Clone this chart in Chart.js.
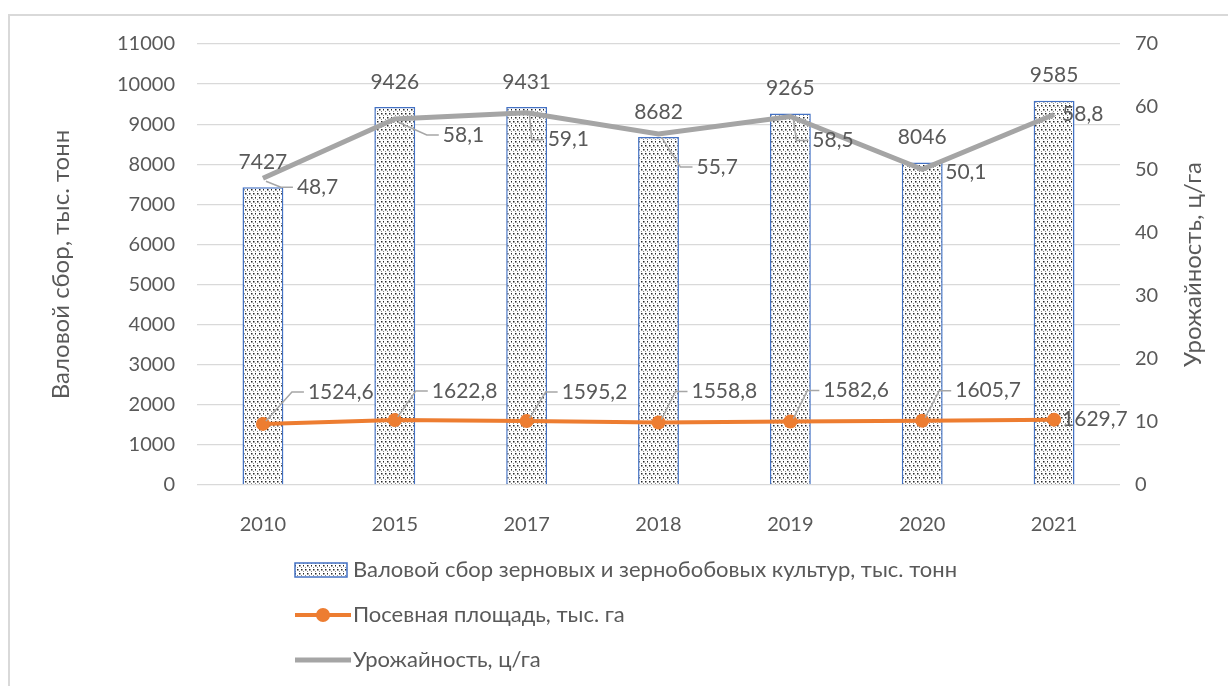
<!DOCTYPE html>
<html>
<head>
<meta charset="utf-8">
<script src="https://cdn.jsdelivr.net/npm/chart.js@4.4.0/dist/chart.umd.min.js"></script>
<style>
  html, body { margin: 0; padding: 0; background: #fff; }
  #frame { position: absolute; left: 8px; top: 14px; width: 1240px; height: 690px;
           border-left: 2px solid #d9d9d9; border-top: 2px solid #d9d9d9; }
  #wrap { position: absolute; left: 0; top: 0; width: 1228px; height: 686px; }
</style>
</head>
<body>
<div id="frame"></div>
<div id="wrap"><canvas id="grainChart" width="1228" height="686"></canvas></div>
<script>
const years = ['2010', '2015', '2017', '2018', '2019', '2020', '2021'];
const harvest = [7427, 9426, 9431, 8682, 9265, 8046, 9585];
const sownArea = [1524.6, 1622.8, 1595.2, 1558.8, 1582.6, 1605.7, 1629.7];
const yieldPerHa = [48.7, 58.1, 59.1, 55.7, 58.5, 50.1, 58.8];

const seriesNames = [
    'Валовой сбор зерновых и зернобобовых культур, тыс. тонн',
    'Посевная площадь, тыс. га',
    'Урожайность, ц/га'
];
const leftTitle = 'Валовой сбор, тыс. тонн';
const rightTitle = 'Урожайность, ц/га';

const FONT = 'Lato, "Open Sans", sans-serif';
const TEXT = '#595959';

// label placement (label left edge / centre relative to the point)
const yieldLblDx = [34, 48, 21, 38, 22, 23, 8];
const yieldLblDy = [9, 16, 27, 33, 24, 3, 0];
const areaLblDx = [45, 37, 35, 33, 33, 33, 8];
const areaLblDy = [-32, -29, -29, -31, -31, -30, 0];

function dotPattern() {
    const c = document.createElement('canvas');
    c.width = 8; c.height = 8;
    const g = c.getContext('2d');
    g.fillStyle = '#fff';
    g.fillRect(0, 0, 8, 8);
    g.fillStyle = '#262626';
    [[1, 1], [5, 1], [3, 5], [7, 5]].forEach(p => g.fillRect(p[0], p[1], 1.5, 1.5));
    g.fillStyle = '#8c8c8c';
    [[3, 3], [7, 3], [1, 7], [5, 7]].forEach(p => g.fillRect(p[0], p[1], 1, 1));
    return g.createPattern(c, 'repeat');
}

const fmt = v => String(v).replace('.', ',');

const labelPlugin = {
    id: 'valueLabels',
    afterDatasetsDraw(chart) {
        const ctx = chart.ctx;
        ctx.save();
        ctx.font = '21px ' + FONT;
        ctx.fillStyle = TEXT;
        ctx.textBaseline = 'middle';

        // bar values
        ctx.textAlign = 'center';
        chart.getDatasetMeta(0).data.forEach((el, i) => {
            ctx.fillText(fmt(harvest[i]), el.x, el.y - 25);
        });

        ctx.textAlign = 'left';
        ctx.strokeStyle = '#a6a6a6';
        ctx.lineWidth = 1.5;
        const drawLbl = (el, txt, dx, dy) => {
            const lx = el.x + dx, ly = el.y + dy;
            if (Math.abs(dy) > 6) {
                const sgn = dy > 0 ? 1 : -1;
                ctx.beginPath();
                ctx.moveTo(el.x + 3, el.y + sgn * 3);
                ctx.lineTo(lx - 16, ly);
                ctx.lineTo(lx - 4, ly);
                ctx.stroke();
            }
            ctx.fillText(txt, lx, ly);
        };
        chart.getDatasetMeta(1).data.forEach((el, i) => drawLbl(el, fmt(sownArea[i]), areaLblDx[i], areaLblDy[i]));
        chart.getDatasetMeta(2).data.forEach((el, i) => drawLbl(el, fmt(yieldPerHa[i]), yieldLblDx[i], yieldLblDy[i]));
        ctx.restore();
    },
    afterDraw(chart) {
        const ctx = chart.ctx;
        const area = chart.chartArea;
        ctx.save();
        // right axis title, reading bottom-up like the left one
        ctx.font = '24px ' + FONT;
        ctx.fillStyle = TEXT;
        ctx.textAlign = 'center';
        ctx.textBaseline = 'middle';
        ctx.translate(1193, (area.top + area.bottom) / 2);
        ctx.rotate(-Math.PI / 2);
        ctx.fillText(rightTitle, 0, 0);
        ctx.restore();

        // legend, stacked vertically as in the original
        const x0 = 295, x1 = 351, tx = 353;
        const rows = [570, 615, 660];
        ctx.save();
        ctx.textBaseline = 'middle';
        ctx.textAlign = 'left';

        ctx.fillStyle = chart.data.datasets[0].backgroundColor;
        ctx.fillRect(x0, rows[0] - 7, x1 - x0 - 4, 14);
        ctx.strokeStyle = '#4472c4';
        ctx.lineWidth = 1.5;
        ctx.strokeRect(x0, rows[0] - 7, x1 - x0 - 4, 14);

        ctx.strokeStyle = '#ed7d31';
        ctx.lineWidth = 4;
        ctx.beginPath(); ctx.moveTo(x0, rows[1]); ctx.lineTo(x1, rows[1]); ctx.stroke();
        ctx.fillStyle = '#ed7d31';
        ctx.beginPath(); ctx.arc((x0 + x1) / 2, rows[1], 7, 0, Math.PI * 2); ctx.fill();

        ctx.strokeStyle = '#a5a5a5';
        ctx.lineWidth = 5;
        ctx.beginPath(); ctx.moveTo(x0, rows[2]); ctx.lineTo(x1, rows[2]); ctx.stroke();

        ctx.font = '22px ' + FONT;
        ctx.fillStyle = TEXT;
        seriesNames.forEach((s, i) => ctx.fillText(s, tx, rows[i]));
        ctx.restore();
    }
};

const ctx = document.getElementById('grainChart').getContext('2d');
new Chart(ctx, {
    type: 'bar',
    data: {
        labels: years,
        datasets: [{
            type: 'bar',
            label: seriesNames[0],
            data: harvest,
            yAxisID: 'y',
            backgroundColor: dotPattern(),
            borderColor: '#4472c4',
            borderWidth: 1.5,
            barPercentage: 0.31,
            categoryPercentage: 1,
            order: 3
        }, {
            type: 'line',
            label: seriesNames[1],
            data: sownArea,
            yAxisID: 'y',
            borderColor: '#ed7d31',
            backgroundColor: '#ed7d31',
            borderWidth: 4,
            pointRadius: 7,
            pointBorderWidth: 0,
            tension: 0,
            order: 2
        }, {
            type: 'line',
            label: seriesNames[2],
            data: yieldPerHa,
            yAxisID: 'y1',
            borderColor: '#a5a5a5',
            backgroundColor: '#a5a5a5',
            borderWidth: 5,
            pointRadius: 0,
            tension: 0,
            order: 1
        }]
    },
    options: {
        responsive: false,
        animation: false,
        layout: { padding: { left: 43, right: 19, top: 44, bottom: 0 } },
        plugins: { legend: { display: false }, tooltip: { enabled: false } },
        scales: {
            x: {
                offset: true,
                grid: { display: false },
                border: { display: false },
                ticks: { color: TEXT, font: { family: FONT, size: 20 }, padding: 20 },
                afterFit: s => { s.height = 201; }
            },
            y: {
                position: 'left',
                min: 0, max: 11000,
                ticks: { stepSize: 1000, color: TEXT, font: { family: FONT, size: 20 }, padding: 22,
                         callback: v => String(v) },
                grid: { color: '#d9d9d9', lineWidth: 1.3, drawTicks: false },
                border: { display: false },
                title: { display: true, text: leftTitle, color: TEXT, font: { family: FONT, size: 24 } },
                afterFit: s => { s.width = 154; }
            },
            y1: {
                position: 'right',
                min: 0, max: 70,
                ticks: { stepSize: 10, color: TEXT, font: { family: FONT, size: 20 }, padding: 15 },
                grid: { display: false, drawTicks: false },
                border: { display: false },
                afterFit: s => { s.width = 89; }
            }
        }
    },
    plugins: [labelPlugin]
});
</script>
</body>
</html>
